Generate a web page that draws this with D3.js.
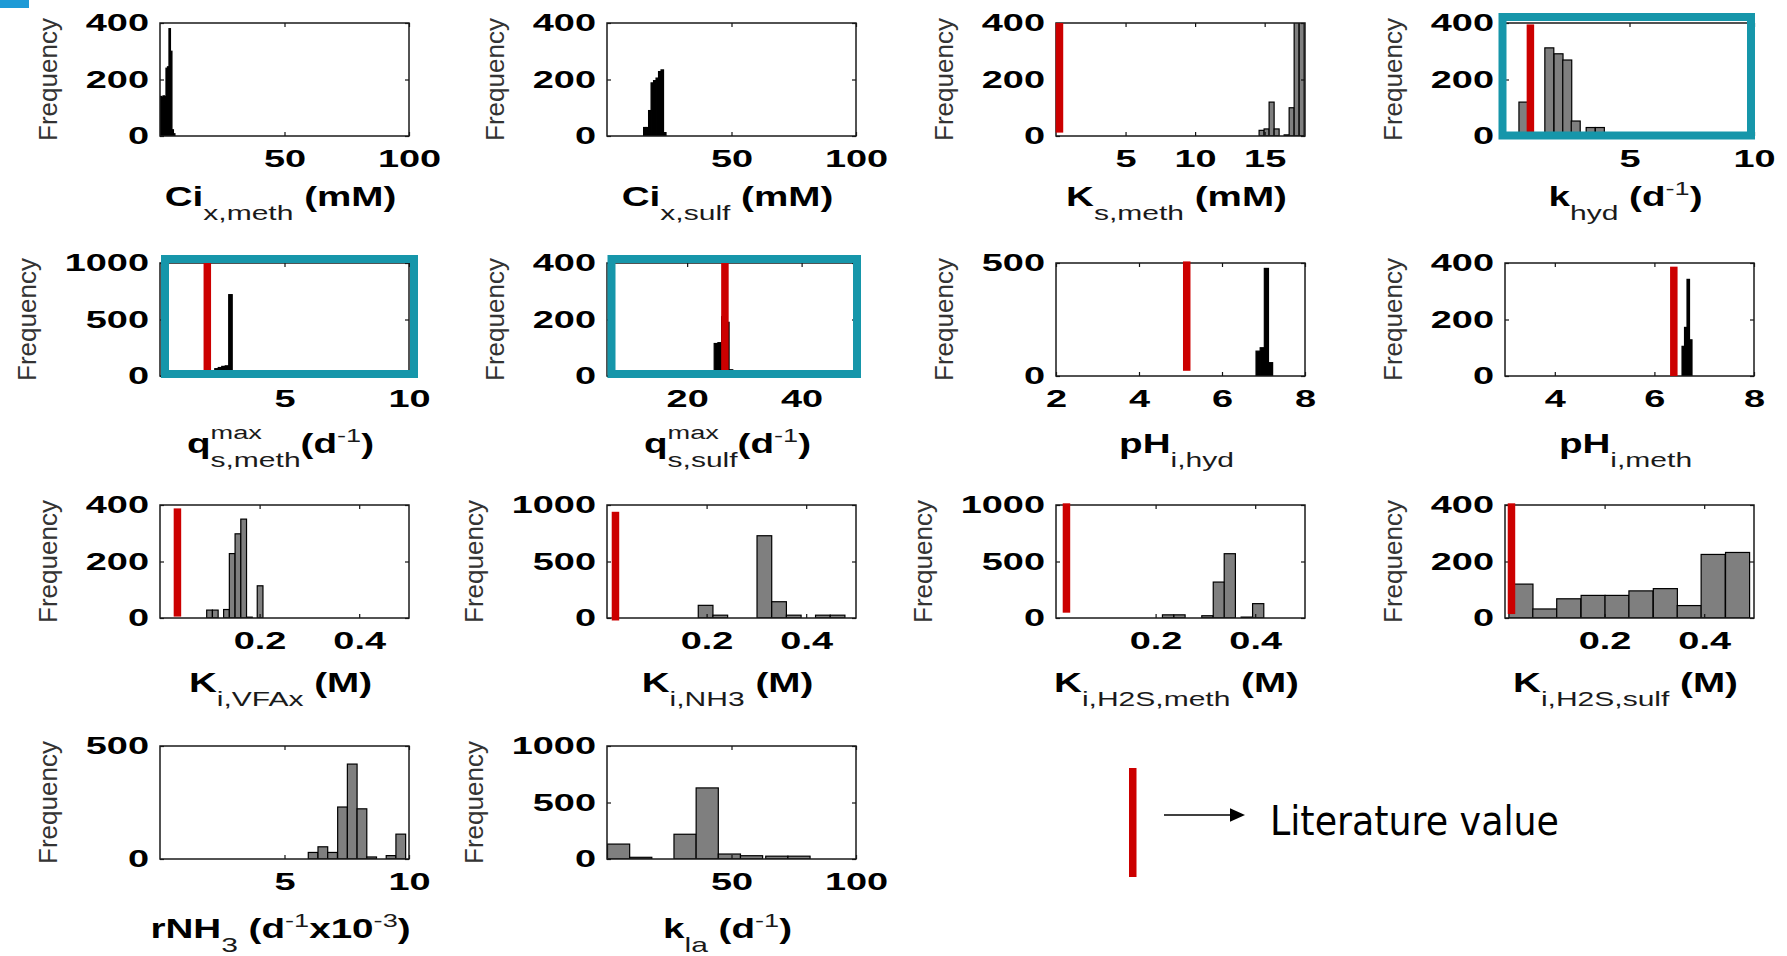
<!DOCTYPE html>
<html>
<head>
<meta charset="utf-8">
<script src="https://cdn.jsdelivr.net/npm/d3@7"></script>
<style>
  body { margin: 0; background: #fff; }
  svg { display: block; }
</style>
</head>
<body>
<svg id="fig" width="1787" height="956"></svg>
<script>
// ---------------- data: histogram bins (centres) and frequencies ----------------
const ciMethDomain = [0, 100], ciMethTicks = [50, 100], ciMethYTicks = [0, 200, 400];
const ciMethCenters = [0.3, 0.9, 1.5, 2.1, 2.7, 3.3, 3.9, 4.5, 5.1, 5.7];
const ciMethCounts  = [140, 138, 142, 140, 240, 245, 380, 300, 22, 8];

const ciSulfDomain = [0, 100], ciSulfTicks = [50, 100], ciSulfYTicks = [0, 200, 400];
const ciSulfCenters = [15.2, 16.2, 17.2, 18.2, 19.2, 20.2, 21.2, 22.2, 23.2];
const ciSulfCounts  = [30, 30, 90, 188, 196, 205, 228, 234, 12];

const ksMethDomain = [0, 17.9], ksMethTicks = [5, 10, 15], ksMethYTicks = [0, 200, 400];
const ksMethCenters = [14.78, 15.14, 15.5, 15.86, 16.22, 16.58, 16.94, 17.3, 17.66];
const ksMethCounts  = [20, 25, 120, 25, 0, 4, 100, 430, 460];
const ksMethLit = [0.25, 400, 12];          // value, bar top, bar bottom

const kHydDomain = [0, 10], kHydTicks = [5, 10], kHydYTicks = [0, 200, 400];
const kHydCenters = [0.74, 1.78, 2.15, 2.5, 2.84, 3.44, 3.81];
const kHydCounts  = [120, 312, 291, 269, 53, 30, 30];
const kHydLit = [1.02, 395, 12];

const qsMethDomain = [0, 10], qsMethTicks = [5, 10], qsMethYTicks = [0, 500, 1000];
const qsMethCenters = [2.13, 2.27, 2.41, 2.55, 2.69, 2.83, 3.45, 3.59];
const qsMethCounts  = [30, 65, 75, 85, 90, 720, 6, 6];
const qsMethLit = [1.9, 1000, 35];

const qsSulfDomain = [6, 49.5], qsSulfTicks = [20, 40], qsSulfYTicks = [0, 200, 400];
const qsSulfCenters = [24.4, 25.05, 25.7, 26.35, 27.0, 27.65, 28.3];
const qsSulfCounts  = [8, 115, 118, 210, 190, 22, 18];
const qsSulfLit = [26.6, 400, 12];

const phHydDomain = [2, 8], phHydTicks = [2, 4, 6, 8], phHydYTicks = [0, 500];
const phHydCenters = [6.87, 6.97, 7.07, 7.17];
const phHydCounts  = [110, 125, 476, 59];
const phHydLit = [5.15, 507, 23];

const phMethDomain = [3, 8], phMethTicks = [4, 6, 8], phMethYTicks = [0, 200, 400];
const phMethCenters = [6.58, 6.63, 6.68, 6.73];
const phMethCounts  = [105, 172, 342, 128];
const phMethLit = [6.39, 387, 0];

const kiVfaDomain = [0, 0.5], kiVfaTicks = [0.2, 0.4], kiVfaYTicks = [0, 200, 400];
const kiVfaCenters = [0.0995, 0.111, 0.1335, 0.145, 0.1565, 0.168, 0.1795, 0.201];
const kiVfaCounts  = [28, 28, 30, 228, 298, 350, 3, 114];
const kiVfaLit = [0.035, 388, 5];

const kiNh3Domain = [0, 0.5], kiNh3Ticks = [0.2, 0.4], kiNh3YTicks = [0, 500, 1000];
const kiNh3Centers = [0.198, 0.2275, 0.316, 0.3455, 0.375, 0.4335, 0.463];
const kiNh3Counts  = [112, 25, 728, 144, 25, 25, 25];
const kiNh3Lit = [0.017, 940, -22];

const kiH2sMethDomain = [0, 0.5], kiH2sMethTicks = [0.2, 0.4], kiH2sMethYTicks = [0, 500, 1000];
const kiH2sMethCenters = [0.225, 0.248, 0.304, 0.327, 0.349, 0.383, 0.406];
const kiH2sMethCounts  = [28, 28, 20, 318, 569, 8, 127];
const kiH2sMethLit = [0.021, 1015, 47];

const kiH2sSulfDomain = [0, 0.5], kiH2sSulfTicks = [0.2, 0.4], kiH2sSulfYTicks = [0, 200, 400];
const kiH2sSulfCenters = [0.032, 0.080, 0.128, 0.177, 0.225, 0.273, 0.322, 0.370, 0.418, 0.467];
const kiH2sSulfCounts  = [120, 32, 68, 80, 80, 96, 104, 44, 225, 232];
const kiH2sSulfLit = [0.013, 406, 14];

const rNh3Domain = [0, 10], rNh3Ticks = [5, 10], rNh3YTicks = [0, 500];
const rNh3Centers = [6.15, 6.54, 6.93, 7.33, 7.72, 8.11, 8.5, 9.28, 9.67];
const rNh3Counts  = [29, 54, 29, 230, 420, 222, 9, 15, 110];

const kLaDomain = [0, 100], kLaTicks = [50, 100], kLaYTicks = [0, 500, 1000];
const kLaCenters = [4.65, 13.55, 31.35, 40.25, 49.15, 58.05, 68.2, 77.1];
const kLaCounts  = [132, 15, 219, 629, 44, 29, 25, 25];

// ---------------- layout ----------------
const COL_LEFT = [160, 607, 1056, 1505];
const ROW_TOP = [23, 263, 505, 746];
const TITLE_OFFSET = [70, 77, 74, 79];   // x-title baseline below each row's axes
const BOX_W = 249, BOX_H = 113;
const FONT = "'Liberation Sans', Arial, Helvetica, sans-serif";
const TICK_SX = 1.58;     // horizontal stretch of tick labels
const LABEL_SX = 1.43;    // horizontal stretch of axis titles
const GRAY = "#7f7f7f", BLACK = "#000", RED = "#cc0000", TEAL = "#1696aa";

const panels = [
  { id: "ciMeth", row: 0, col: 0, dom: ciMethDomain, xt: ciMethTicks, yt: ciMethYTicks, c: ciMethCenters, n: ciMethCounts, bw: 0.6, fill: BLACK,
    label: [{ t: "Ci", k: "m" }, { t: "x,meth", k: "sub" }, { t: "\u00A0(mM)", k: "m" }] },
  { id: "ciSulf", row: 0, col: 1, dom: ciSulfDomain, xt: ciSulfTicks, yt: ciSulfYTicks, c: ciSulfCenters, n: ciSulfCounts, bw: 1.0, fill: BLACK,
    label: [{ t: "Ci", k: "m" }, { t: "x,sulf", k: "sub" }, { t: "\u00A0(mM)", k: "m" }] },
  { id: "ksMeth", row: 0, col: 2, dom: ksMethDomain, xt: ksMethTicks, yt: ksMethYTicks, c: ksMethCenters, n: ksMethCounts, bw: 0.36, fill: GRAY, lit: ksMethLit,
    label: [{ t: "K", k: "m" }, { t: "s,meth", k: "sub" }, { t: "\u00A0(mM)", k: "m" }] },
  { id: "kHyd", row: 0, col: 3, dom: kHydDomain, xt: kHydTicks, yt: kHydYTicks, c: kHydCenters, n: kHydCounts, bw: 0.36, fill: GRAY, lit: kHydLit,
    frame: [-2.5, -3, -6, -0.5],
    label: [{ t: "k", k: "m" }, { t: "hyd", k: "sub" }, { t: "\u00A0(d", k: "m" }, { t: "-1", k: "sup" }, { t: ")", k: "m" }] },
  { id: "qsMeth", row: 1, col: 0, dom: qsMethDomain, xt: qsMethTicks, yt: qsMethYTicks, c: qsMethCenters, n: qsMethCounts, bw: 0.14, fill: BLACK, lit: qsMethLit,
    frame: [5, 5, -4, -2],
    label: [{ t: "q", k: "m" }, { t: "s,meth", k: "sub", over: "max" }, { t: "(d", k: "m" }, { t: "-1", k: "sup" }, { t: ")", k: "m" }] },
  { id: "qsSulf", row: 1, col: 1, dom: qsSulfDomain, xt: qsSulfTicks, yt: qsSulfYTicks, c: qsSulfCenters, n: qsSulfCounts, bw: 0.65, fill: BLACK, lit: qsSulfLit,
    frame: [4.5, 1, -4, -2],
    label: [{ t: "q", k: "m" }, { t: "s,sulf", k: "sub", over: "max" }, { t: "(d", k: "m" }, { t: "-1", k: "sup" }, { t: ")", k: "m" }] },
  { id: "phHyd", row: 1, col: 2, dom: phHydDomain, xt: phHydTicks, yt: phHydYTicks, c: phHydCenters, n: phHydCounts, bw: 0.1, fill: BLACK, lit: phHydLit,
    label: [{ t: "pH", k: "m" }, { t: "i,hyd", k: "sub" }] },
  { id: "phMeth", row: 1, col: 3, dom: phMethDomain, xt: phMethTicks, yt: phMethYTicks, c: phMethCenters, n: phMethCounts, bw: 0.05, fill: BLACK, lit: phMethLit,
    label: [{ t: "pH", k: "m" }, { t: "i,meth", k: "sub" }] },
  { id: "kiVfa", row: 2, col: 0, dom: kiVfaDomain, xt: kiVfaTicks, yt: kiVfaYTicks, c: kiVfaCenters, n: kiVfaCounts, bw: 0.0115, fill: GRAY, lit: kiVfaLit,
    label: [{ t: "K", k: "m" }, { t: "i,VFAx", k: "sub" }, { t: "\u00A0(M)", k: "m" }] },
  { id: "kiNh3", row: 2, col: 1, dom: kiNh3Domain, xt: kiNh3Ticks, yt: kiNh3YTicks, c: kiNh3Centers, n: kiNh3Counts, bw: 0.0295, fill: GRAY, lit: kiNh3Lit,
    label: [{ t: "K", k: "m" }, { t: "i,NH3", k: "sub" }, { t: "\u00A0(M)", k: "m" }] },
  { id: "kiH2sMeth", row: 2, col: 2, dom: kiH2sMethDomain, xt: kiH2sMethTicks, yt: kiH2sMethYTicks, c: kiH2sMethCenters, n: kiH2sMethCounts, bw: 0.0225, fill: GRAY, lit: kiH2sMethLit,
    label: [{ t: "K", k: "m" }, { t: "i,H2S,meth", k: "sub" }, { t: "\u00A0(M)", k: "m" }] },
  { id: "kiH2sSulf", row: 2, col: 3, dom: kiH2sSulfDomain, xt: kiH2sSulfTicks, yt: kiH2sSulfYTicks, c: kiH2sSulfCenters, n: kiH2sSulfCounts, bw: 0.0483, fill: GRAY, lit: kiH2sSulfLit,
    label: [{ t: "K", k: "m" }, { t: "i,H2S,sulf", k: "sub" }, { t: "\u00A0(M)", k: "m" }] },
  { id: "rNh3", row: 3, col: 0, dom: rNh3Domain, xt: rNh3Ticks, yt: rNh3YTicks, c: rNh3Centers, n: rNh3Counts, bw: 0.39, fill: GRAY,
    label: [{ t: "rNH", k: "m" }, { t: "3", k: "sub" }, { t: "\u00A0(d", k: "m" }, { t: "-1", k: "sup" }, { t: "x10", k: "m" }, { t: "-3", k: "sup" }, { t: ")", k: "m" }] },
  { id: "kLa", row: 3, col: 1, dom: kLaDomain, xt: kLaTicks, yt: kLaYTicks, c: kLaCenters, n: kLaCounts, bw: 8.9, fill: GRAY,
    label: [{ t: "k", k: "m" }, { t: "la", k: "sub" }, { t: "\u00A0(d", k: "m" }, { t: "-1", k: "sup" }, { t: ")", k: "m" }] }
];

const TEXT_STYLE = {
  m:    { size: 27, weight: "bold",   dy: 0,   fill: "#000" },
  sub:  { size: 21, weight: "normal", dy: 14,  fill: "#1a1a1a" },
  sup:  { size: 19, weight: "normal", dy: -11, fill: "#1a1a1a" },
  over: { size: 19, weight: "normal", dy: -14, fill: "#1a1a1a" }
};

const svg = d3.select("#fig");
svg.append("rect").attr("x", 0).attr("y", 0).attr("width", 29).attr("height", 8).attr("fill", "#1e9ad6");

function styledText(sel, st) {
  return sel.attr("font-family", FONT).attr("font-size", st.size)
    .attr("font-weight", st.weight).attr("fill", st.fill);
}

// axis title built from main / subscript / superscript runs
function drawLabel(parent, segs, cx, baseline) {
  const g = parent.append("g").attr("transform", `translate(${cx},${baseline}) scale(${LABEL_SX},1)`);
  const inner = g.append("g");
  let cursor = 0;
  segs.forEach(s => {
    const st = TEXT_STYLE[s.k];
    const t = styledText(inner.append("text"), st).attr("x", cursor).attr("y", st.dy).text(s.t);
    let w = t.node().getComputedTextLength();
    if (s.over) {
      const st2 = TEXT_STYLE.over;
      const t2 = styledText(inner.append("text"), st2).attr("x", cursor).attr("y", st2.dy).text(s.over);
      w = Math.max(w, t2.node().getComputedTextLength());
    }
    cursor += w;
  });
  inner.attr("transform", `translate(${-cursor / 2},0)`);
}

panels.forEach(p => {
  const x0 = COL_LEFT[p.col], y0 = ROW_TOP[p.row];
  const yMax = p.yt[p.yt.length - 1];
  const x = d3.scaleLinear().domain(p.dom).range([x0, x0 + BOX_W]);
  const y = d3.scaleLinear().domain([0, yMax]).range([y0 + BOX_H, y0]);
  const g = svg.append("g").attr("class", "panel " + p.id);

  const clipId = "clip-" + p.id;
  g.append("clipPath").attr("id", clipId).append("rect")
    .attr("x", x0).attr("y", y0).attr("width", BOX_W).attr("height", BOX_H);

  // histogram bars
  const bins = d3.zip(p.c, p.n).filter(d => d[1] > 0);
  g.append("g").attr("clip-path", `url(#${clipId})`)
    .selectAll("rect").data(bins).join("rect")
    .attr("x", d => x(d[0] - p.bw / 2))
    .attr("width", d => x(d[0] + p.bw / 2) - x(d[0] - p.bw / 2))
    .attr("y", d => y(d[1]))
    .attr("height", d => y(0) - y(d[1]))
    .attr("fill", p.fill).attr("stroke", "#000").attr("stroke-width", 1.2);

  // axes with inward ticks on all four sides
  const fmt = d3.format("");
  const bottom = g.append("g").attr("transform", `translate(0,${y0 + BOX_H})`)
    .call(d3.axisBottom(x).tickValues(p.xt).tickSize(-4).tickPadding(13.5).tickFormat(fmt));
  const top = g.append("g").attr("transform", `translate(0,${y0})`)
    .call(d3.axisTop(x).tickValues(p.xt).tickSize(-4).tickFormat(""));
  const left = g.append("g").attr("transform", `translate(${x0},0)`)
    .call(d3.axisLeft(y).tickValues(p.yt).tickSize(-4).tickPadding(11).tickFormat(fmt));
  const right = g.append("g").attr("transform", `translate(${x0 + BOX_W},0)`)
    .call(d3.axisRight(y).tickValues(p.yt).tickSize(-4).tickFormat(""));
  [bottom, top, left, right].forEach(a => {
    a.select(".domain").remove();
    a.selectAll(".tick line").attr("stroke", "#111").attr("stroke-width", 1.2);
  });
  bottom.selectAll("text").attr("font-family", FONT).attr("font-size", 24).attr("font-weight", "bold")
    .attr("fill", "#000").attr("transform", `scale(${TICK_SX},1)`);
  left.selectAll("text").attr("font-family", FONT).attr("font-size", 24).attr("font-weight", "bold")
    .attr("fill", "#000").attr("x", -11 / TICK_SX).attr("transform", `scale(${TICK_SX},1)`);

  // axes box
  g.append("rect").attr("x", x0).attr("y", y0).attr("width", BOX_W).attr("height", BOX_H)
    .attr("fill", "none").attr("stroke", "#1a1a1a").attr("stroke-width", 1.5);

  // y title
  const wide = String(yMax).length > 3;
  g.append("text")
    .attr("transform", `translate(${x0 - (wide ? 133 : 112)},${y0 + BOX_H / 2}) rotate(-90)`)
    .attr("text-anchor", "middle").attr("dominant-baseline", "central")
    .attr("font-family", FONT).attr("font-size", 26).attr("fill", "#333")
    .text("Frequency");

  // x title
  drawLabel(g, p.label, x0 + BOX_W / 2 - 4, y0 + BOX_H + TITLE_OFFSET[p.row]);

  // literature value marker
  if (p.lit) {
    const [v, t, b] = p.lit;
    g.append("rect").attr("x", x(v) - 3.75).attr("width", 7.5)
      .attr("y", y(t)).attr("height", y(b) - y(t)).attr("fill", RED);
  }

  // highlight frame
  if (p.frame) {
    const [dl, dr, dt, db] = p.frame;
    g.append("rect").attr("x", x0 + dl).attr("y", y0 + dt)
      .attr("width", BOX_W - dl + dr).attr("height", BOX_H - dt + db)
      .attr("fill", "none").attr("stroke", TEAL).attr("stroke-width", 8);
  }
});

// legend
const leg = svg.append("g").attr("class", "legend");
leg.append("rect").attr("x", 1129).attr("y", 768).attr("width", 7.5).attr("height", 109).attr("fill", RED);
leg.append("line").attr("x1", 1164).attr("x2", 1234).attr("y1", 815).attr("y2", 815)
  .attr("stroke", "#000").attr("stroke-width", 1.6);
leg.append("path").attr("d", "M1230,808.3 L1245,815 L1230,821.7 Z").attr("fill", "#000");
leg.append("text").attr("x", 1270).attr("y", 835)
  .attr("font-family", "'DejaVu Sans Condensed', 'DejaVu Sans', sans-serif")
  .style("font-stretch", "condensed")
  .attr("font-size", 40).attr("fill", "#000")
  .attr("textLength", 289).attr("lengthAdjust", "spacingAndGlyphs")
  .text("Literature value");
</script>
</body>
</html>
